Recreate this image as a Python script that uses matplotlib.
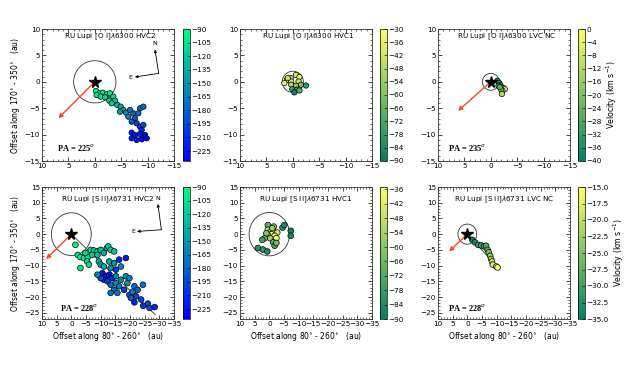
import numpy as np
import matplotlib
matplotlib.use("Agg")
import matplotlib.pyplot as plt
from matplotlib.patches import Circle
from matplotlib.ticker import MultipleLocator

# ---------------- data ----------------
# [O I] 6300 HVC2
oi_hvc2_x = [-0.23, -0.86, -0.35, -1.5, -2.25, -2.88, -1.11, -1.93, -3.51, -2.75, -3.83, -3.2, -4.27,
             -4.9, -5.4, -4.77, -5.91, -6.67, -7.3, -8.56, -9.2, -8.25, -6.35, -7.61, -6.98, -7.93,
             -8.56, -9.2, -8.88, -6.98, -7.61, -8.56, -9.51, -7.93, -8.88, -6.98, -9.83]
oi_hvc2_y = [-1.74, -2.18, -2.5, -2.06, -2.37, -2.18, -2.8, -2.94, -2.81, -3.57, -3.57, -4.08, -4.39,
             -4.71, -5.34, -5.66, -5.84, -5.34, -5.97, -5.03, -4.71, -5.97, -6.6, -6.92, -7.55, -7.87,
             -8.5, -8.18, -9.13, -9.63, -10.07, -9.88, -10.07, -11.02, -10.89, -10.7, -10.7]
oi_hvc2_v = [-95, -95, -100, -100, -105, -100, -105, -110, -110, -115, -120, -118, -125,
             -135, -140, -145, -150, -165, -175, -180, -175, -170, -160, -185, -180, -195,
             -200, -190, -215, -220, -225, -220, -230, -225, -230, -222, -228]

# [O I] 6300 HVC1
oi_hvc1_x = [-0.6, -1.25, 0.4, 1.1, 0.3, -1.1, 1.6, 0.3, -0.6, -1.55, -2.5, 0.1, -0.75, -0.3, -1.25, 0.95]
oi_hvc1_y = [1.3, 0.9, 0.7, 0.4, 0.05, 0.05, -0.25, -0.55, -0.75, -0.55, -0.7, -1.4, -1.5, -2.0, -1.65, 0.7]
oi_hvc1_v = [-40, -35, -45, -33, -38, -42, -36, -50, -55, -60, -78, -75, -82, -88, -70, -45]

# [O I] 6300 LVC NC
oi_lvc_x = [-1.25, -1.6, -1.8, -1.45, -2.0, -2.45, -2.65, -2.2, -1.9, -2.1, -1.7]
oi_lvc_y = [0.2, -0.25, -0.6, -0.75, -1.0, -1.2, -1.4, -1.65, -1.4, -2.3, -1.0]
oi_lvc_v = [-38, -32, -28, -30, -22, -8, -4, -15, -20, -12, -25]

# [S II] 6731 HVC2
sii_hvc2_x = [-1.4, -2.2, -3.1, -4.3, -5.6, -4.8, -6.6, -7.7, -8.9, -7.1, -5.4, -3.1, -6.0, -8.9, -10.0,
              -12.1, -12.6, -13.4, -14.6, -11.1, -9.4, -10.0, -11.1, -12.9, -14.6, -16.3, -18.6, -13.4,
              -15.2, -16.9, -10.6, -11.7, -12.9, -11.1, -12.3, -14.0, -15.2, -10.0, -8.9, -13.4, -15.2,
              -16.9, -18.6, -19.8, -19.1, -16.3, -14.6, -15.7, -13.4, -18.0, -19.8, -20.9, -21.5, -22.6,
              -24.4, -22.1, -20.3, -21.5, -23.8, -26.1, -24.5, -26.7, -28.4]
sii_hvc2_y = [-3.4, -6.6, -7.3, -7.6, -7.3, -6.0, -5.0, -5.2, -5.5, -6.6, -8.7, -10.8, -9.7, -6.6, -5.0,
              -4.4, -3.9, -5.0, -5.5, -6.0, -8.7, -9.7, -10.3, -8.7, -9.2, -8.1, -7.6, -10.8,
              -11.3, -10.3, -12.4, -13.4, -12.9, -14.5, -15.0, -14.0, -13.4, -14.0, -12.9, -16.1, -15.6,
              -14.5, -13.4, -14.0, -15.6, -16.6, -17.7, -18.7, -18.7, -17.7, -19.3, -18.3, -16.6, -17.7,
              -16.1, -19.8, -20.3, -21.7, -20.8, -22.1, -22.8, -23.5, -23.2]
sii_hvc2_v = [-95, -100, -95, -100, -105, -110, -110, -115, -120, -115, -105, -100, -110, -125, -125,
              -130, -120, -120, -125, -135, -130, -140, -135, -140, -150, -215, -220, -150,
              -205, -160, -220, -225, -230, -215, -200, -210, -160, -190, -160, -175, -150,
              -155, -150, -165, -150, -165, -170, -165, -170, -200, -190, -160, -175, -180,
              -170, -195, -180, -215, -200, -195, -205, -190, -210]

# [S II] 6731 HVC1
sii_hvc1_x = [0.5, -1.5, -0.7, 0.5, -0.1, -1.3, -2.7, -0.7, 0.5, -1.8, -2.4, -0.3, 1.6, 2.4, -1.3,
              -1.8, -2.4, 3.9, 2.2, 0.7, -4.5, -5.1, -7.3, -7.3, -1.0, 1.0]
sii_hvc1_y = [2.9, 2.4, 1.4, 1.4, 0.5, 0.8, 0.5, 0.0, -0.2, -0.5, -1.3, -1.3, -1.3, -1.8, -2.6,
              -3.7, -2.8, -4.4, -4.9, -5.5, 2.1, 2.9, 1.05, -0.5, 1.9, 0.3]
sii_hvc1_v = [-70, -60, -40, -50, -42, -38, -45, -36, -48, -40, -37, -55, -65, -75, -70,
              -75, -65, -82, -80, -85, -82, -85, -88, -86, -55, -60]

# [S II] 6731 LVC NC
sii_lvc_x = [-1.7, -2.6, -3.7, -4.7, -5.7, -6.4, -6.9, -7.3, -7.8, -8.1, -8.4, -8.7, -9.9, -10.3]
sii_lvc_y = [-1.8, -2.6, -3.4, -3.6, -3.9, -3.7, -5.0, -5.8, -6.9, -7.9, -8.7, -9.7, -10.3, -10.6]
sii_lvc_v = [-35, -33, -31, -30, -29, -28, -27, -25, -23, -21, -20, -18, -16, -15.5]

titles = ["RU Lupi [O I]$\\lambda$6300 HVC2", "RU Lupi [O I]$\\lambda$6300 HVC1",
          "RU Lupi [O I]$\\lambda$6300 LVC NC", "RU Lupi [S II]$\\lambda$6731 HVC2",
          "RU Lupi [S II]$\\lambda$6731 HVC1", "RU Lupi [S II]$\\lambda$6731 LVC NC"]
pa_labels = ["PA = 225$^{o}$", None, "PA = 235$^{o}$", "PA = 228$^{o}$", None, "PA = 228$^{o}$"]
circle_r = [4.0, 2.0, 1.6, 6.8, 6.9, 3.2]
arrow_dx = [6.9, None, 6.2, 8.6, None, 6.2]
arrow_dy = [-6.9, None, -5.5, -7.9, None, -5.5]
jet_end_x = [None, None, None, -28.6, None, -10.3]
jet_end_y = [None, None, None, -25.6, None, -10.5]
vranges = [(-236, -90), (-90, -30), (-40, 0), (-236, -90), (-90, -35), (-35, -15)]
cticks = [np.arange(-90, -226, -15), np.arange(-30, -91, -6), np.arange(0, -41, -4),
          np.arange(-90, -226, -15), np.arange(-36, -91, -6), np.arange(-15, -35.1, -2.5)]
cmaps = ["winter", "summer", "summer", "winter", "summer", "summer"]
# compass (corner, N tip, E tip)
compass = {0: ((-12.1, 1.6), (-11.4, 6.1), (-7.6, 0.9)),
           3: ((-30.7, 1.4), (-29.5, 9.6), (-22.4, 0.85))}

data = [(oi_hvc2_x, oi_hvc2_y, oi_hvc2_v), (oi_hvc1_x, oi_hvc1_y, oi_hvc1_v),
        (oi_lvc_x, oi_lvc_y, oi_lvc_v), (sii_hvc2_x, sii_hvc2_y, sii_hvc2_v),
        (sii_hvc1_x, sii_hvc1_y, sii_hvc1_v), (sii_lvc_x, sii_lvc_y, sii_lvc_v)]

# ---------------- figure ----------------
W, H = 628, 367
fig = plt.figure(figsize=(W / 100, H / 100), dpi=100)
fig.patch.set_facecolor("white")

ax_left = [42, 240, 438]
cb_left = [183, 380, 578]
row_top = [29, 187]
aw, ah = 132, 132
fs = 5.2

for i in range(6):
    r, c = divmod(i, 3)
    ax = fig.add_axes([ax_left[c] / W, 1 - (row_top[r] + ah) / H, aw / W, ah / H])
    cax = fig.add_axes([cb_left[c] / W, 1 - (row_top[r] + ah) / H, 6.5 / W, ah / H])
    x, y, v = data[i]
    vmin, vmax = vranges[i]
    ms = 15 if r == 0 else 17
    sc = ax.scatter(x, y, c=v, cmap=cmaps[i], vmin=vmin, vmax=vmax, s=ms,
                    edgecolors="black", linewidths=0.5, zorder=3)
    ax.add_patch(Circle((0, 0), circle_r[i], fill=False, ec="#333333", lw=0.6, zorder=2))
    if jet_end_x[i] is not None:
        ax.plot([0, jet_end_x[i]], [0, jet_end_y[i]], color="#333333", lw=0.6, zorder=2)
    if arrow_dx[i] is not None:
        ax.annotate("", xy=(arrow_dx[i], arrow_dy[i]), xytext=(0, 0),
                    arrowprops=dict(arrowstyle="-|>", color="#ff4422", lw=1.0,
                                    mutation_scale=6, shrinkA=0, shrinkB=0), zorder=4)
        ax.plot([0], [0], marker="*", color="black", markersize=8.5, zorder=5, linestyle="none")
    if i in compass:
        (cx, cy), (nx, ny), (ex, ey) = compass[i]
        for tx, ty in [(nx, ny), (ex, ey)]:
            ax.annotate("", xy=(tx, ty), xytext=(cx, cy),
                        arrowprops=dict(arrowstyle="-|>", color="black", lw=0.6,
                                        mutation_scale=4, shrinkA=0, shrinkB=0))
        ax.text(nx, ny + 0.6 if r == 0 else ny + 1.0, "N", fontsize=4.5, ha="center", va="bottom")
        ax.text(ex + 0.5, ey, "E", fontsize=4.5, ha="right", va="center")
    ax.text(0.52 if r == 0 else 0.5, 0.945 if r == 0 else 0.905, titles[i],
            transform=ax.transAxes, ha="center", va="center", fontsize=fs)
    if pa_labels[i]:
        ax.text(0.075 if c == 2 else (0.11 if r == 0 else 0.14), 0.105 if r == 0 else 0.09,
                pa_labels[i], transform=ax.transAxes, ha="left", va="center",
                fontsize=6, fontweight="bold", family="Liberation Serif")
    if r == 0:
        ax.set_xlim(10, -15)
        ax.set_ylim(-15, 10)
    else:
        ax.set_xlim(10, -35)
        ax.set_ylim(-27, 15)
    ax.xaxis.set_major_locator(MultipleLocator(5))
    ax.yaxis.set_major_locator(MultipleLocator(5))
    ax.xaxis.set_minor_locator(MultipleLocator(1))
    ax.yaxis.set_minor_locator(MultipleLocator(1))
    ax.tick_params(which="both", direction="in", top=True, right=True, labelsize=fs, pad=1.5)
    ax.tick_params(which="major", length=3, width=0.5)
    ax.tick_params(which="minor", length=1.5, width=0.4)
    for s in ax.spines.values():
        s.set_linewidth(0.6)
        s.set_color("#333333")
    if c == 0:
        ax.set_ylabel("Offset along 170$^{\\circ}$ - 350$^{\\circ}$   (au)", fontsize=fs + 0.3, labelpad=2)
    if r == 1:
        ax.set_xlabel("Offset along 80$^{\\circ}$ - 260$^{\\circ}$   (au)", fontsize=fs + 0.3, labelpad=2)

    cb = fig.colorbar(sc, cax=cax, ticks=cticks[i])
    if i == 5:
        cb.ax.yaxis.set_ticklabels(["\u2212%.1f" % abs(t) for t in cticks[i]])
    cb.ax.tick_params(labelsize=fs, length=2, width=0.4, pad=1.5, direction="in")
    cb.outline.set_linewidth(0.5)
    if c == 2:
        cb.set_label("Velocity (km s$^{-1}$)", fontsize=fs + 0.5, labelpad=2)

fig.savefig("out.png", dpi=100, facecolor="white")
